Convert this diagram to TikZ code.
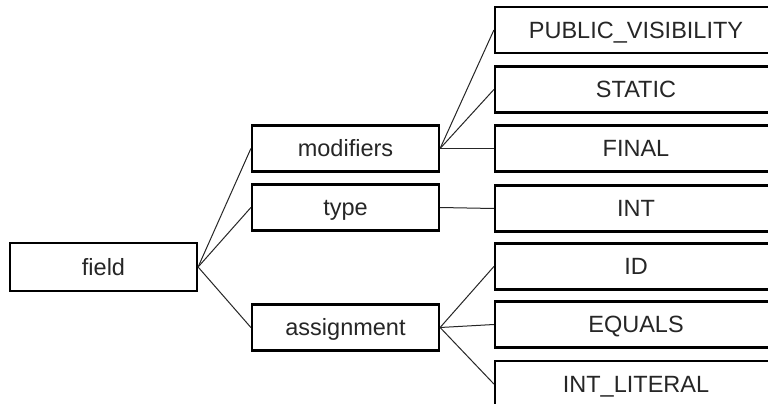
\documentclass[tikz,border=0pt]{standalone}
\usepackage{fontspec}
\setmainfont{Liberation Sans}
\begin{document}
\begin{tikzpicture}[x=1pt,y=1pt,
  box/.style={draw=black, line width=2.2pt, rectangle, minimum height=46pt, inner sep=0pt, text height=16.5pt, text depth=0pt, text=black!85, font=\fontsize{23.5}{27}\selectfont},
  midbox/.style={box, minimum width=187pt},
  leafbox/.style={box, minimum width=282pt},
  conn/.style={draw=black!85, line width=1pt}]
\useasboundingbox (0,0) rectangle (768,-404);
\clip (0,0) rectangle (768,-404);
\fill[white] (0,0) rectangle (768,-404);
\node[midbox, minimum height=48pt] (field) at (103.5,-267) {field};
\node[midbox] (modifiers) at (345.5,-148.5) {modifiers};
\node[midbox] (type) at (345.5,-207.5) {type};
\node[midbox] (assignment) at (345.5,-327.5) {assignment};
\node[leafbox] (pub) at (636,-30) {PUBLIC\_VISIBILITY};
\node[leafbox] (static) at (636,-89.5) {STATIC};
\node[leafbox] (final) at (636,-148.5) {FINAL};
\node[leafbox] (int) at (636,-208.5) {INT};
\node[leafbox] (id) at (636,-266.5) {ID};
\node[leafbox] (equals) at (636,-324.5) {EQUALS};
\node[leafbox] (lit) at (636,-384) {INT\_LITERAL};
\draw[conn] (field.east) -- (modifiers.west);
\draw[conn] (field.east) -- (type.west);
\draw[conn] (field.east) -- (assignment.west);
\draw[conn] (modifiers.east) -- (pub.west);
\draw[conn] (modifiers.east) -- (static.west);
\draw[conn] (modifiers.east) -- (final.west);
\draw[conn] (type.east) -- (int.west);
\draw[conn] (assignment.east) -- (id.west);
\draw[conn] (assignment.east) -- (equals.west);
\draw[conn] (assignment.east) -- (lit.west);
\end{tikzpicture}
\end{document}
